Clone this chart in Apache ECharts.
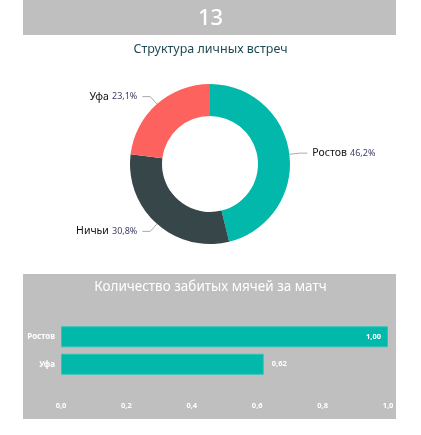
<!DOCTYPE html>
<html><head><meta charset="utf-8">
<script src="https://cdn.jsdelivr.net/npm/echarts@6/dist/echarts.min.js"></script>
<style>html,body{margin:0;padding:0;background:#fff}#c{width:421px;height:435px}</style>
</head><body><div id="c"></div>
<script>
const headline = '13';
const pieTitle = 'Структура личных встреч';
const pieNames = ['Ростов', 'Ничьи', 'Уфа'];
const pieValues = [6, 4, 3];
const pieColors = ['#01B8AA', '#374649', '#FD625E'];
const barTitle = 'Количество забитых мячей за матч';
const barCategories = ['Ростов', 'Уфа'];
const barValues = [1.00, 0.62];
const xTicks = [0, 0.2, 0.4, 0.6, 0.8, 1.0];

const total = pieValues.reduce((a, b) => a + b, 0);
const FONT = '"Noto Sans", "Open Sans", sans-serif';
const chart = echarts.init(document.getElementById('c'), null, {renderer: 'canvas'});
chart.setOption({
  animation: false,
  textStyle: {fontFamily: FONT},
  graphic: [
    {type: 'rect', shape: {x: 23, y: 0, width: 373, height: 35}, style: {fill: '#bfbfbf'}, z: -10},
    {type: 'rect', shape: {x: 23, y: 274, width: 373, height: 145}, style: {fill: '#bfbfbf'}, z: -10}
  ],
  title: [
    {text: headline, left: 'center', top: 3, textStyle: {color: '#ffffff', fontSize: 22, fontWeight: 500, fontFamily: FONT}},
    {text: pieTitle, left: 'center', top: 38, textStyle: {color: '#1d4a52', fontSize: 12.5, fontWeight: 'normal', fontFamily: FONT}},
    {text: barTitle, left: 'center', top: 275, textStyle: {color: '#ffffff', fontSize: 13.5, fontWeight: 'normal', fontFamily: FONT}}
  ],
  grid: {left: 61, top: 323, width: 327, height: 55},
  xAxis: {
    type: 'value', min: 0, max: 1, interval: 0.2,
    splitLine: {show: false}, axisLine: {show: false}, axisTick: {show: false},
    axisLabel: {
      color: '#ffffff', fontSize: 7.5, fontWeight: 'bold', margin: 24,
      formatter: v => { const t = xTicks.find(x => Math.abs(x - v) < 1e-9); return (t !== undefined ? t : v).toFixed(1).replace('.', ','); }
    }
  },
  yAxis: {
    type: 'category', data: barCategories, inverse: true,
    axisLine: {show: false}, axisTick: {show: false},
    axisLabel: {color: '#ffffff', fontSize: 8, fontWeight: 'bold', margin: 6}
  },
  series: [
    {
      type: 'pie',
      center: [210, 164],
      radius: [48, 80],
      startAngle: 90,
      clockwise: true,
      data: pieNames.map((n, i) => ({name: n, value: pieValues[i], itemStyle: {color: pieColors[i]}})),
      label: {
        show: true,
        formatter: p => '{n|' + p.name + '} {p|' + (p.value / total * 100).toFixed(1).replace('.', ',') + '%}',
        rich: {
          n: {color: '#111111', fontSize: 10.5, fontFamily: FONT},
          p: {color: '#3a3f66', fontSize: 9, fontFamily: FONT}
        }
      },
      labelLine: {show: true, length: 10, length2: 8, lineStyle: {color: '#aaaaaa', width: 1}},
      emphasis: {disabled: true}
    },
    {
      type: 'bar',
      data: barValues.map((v, i) => ({
        value: v,
        label: i === 0 ? {position: 'insideRight', offset: [-2, 0]} : {position: 'right', offset: [3, 0]}
      })),
      barWidth: 21,
      itemStyle: {color: '#01B8AA', borderColor: '#2fc4b8', borderWidth: 1},
      label: {show: true, color: '#ffffff', fontSize: 7.5, fontWeight: 'bold', formatter: p => p.value.toFixed(2).replace('.', ',')},
      emphasis: {disabled: true}
    }
  ]
});
</script></body></html>
